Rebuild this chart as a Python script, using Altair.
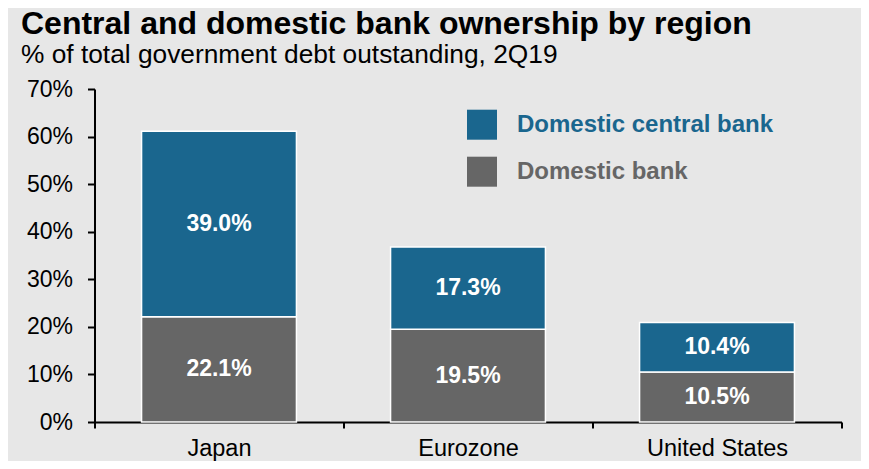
import altair as alt
import pandas as pd

regions = ["Japan", "Eurozone", "United States"]
central_bank = [39.0, 17.3, 10.4]
domestic_bank = [22.1, 19.5, 10.5]
series = ["Domestic central bank", "Domestic bank"]
y_ticks = [0, 10, 20, 30, 40, 50, 60, 70]

rows = []
for i, r in enumerate(regions):
    rows.append({"region": r, "series": "Domestic bank", "value": domestic_bank[i], "order": 0})
    rows.append({"region": r, "series": "Domestic central bank", "value": central_bank[i], "order": 1})
df = pd.DataFrame(rows)

BLUE = "#1a668e"
GREY = "#666666"
BG = "#e7e7e7"
FONT = "Liberation Sans"

x_enc = alt.X(
    "region:N", sort=regions, title=None,
    scale=alt.Scale(paddingInner=0, paddingOuter=0),
    axis=alt.Axis(tickBand="extent", labelAngle=0, labelFontSize=23.5, labelColor="black",
                  labelFont=FONT, domainColor="black", domainWidth=2, tickColor="black",
                  tickWidth=2, tickSize=6, labelPadding=8.5, grid=False),
)
y_scale = alt.Scale(domain=[0, 70], nice=False)
y_axis = alt.Axis(values=y_ticks, labelExpr="datum.value + '%'", labelFontSize=23, labelColor="black",
                  labelFont=FONT, domainColor="black", domainWidth=2, tickColor="black",
                  tickWidth=2, tickSize=7, labelPadding=15, grid=False)

bars = alt.Chart(df).mark_bar(
    width=alt.RelativeBandSize(0.622), stroke="white", strokeWidth=1.5
).encode(
    x=x_enc,
    y=alt.Y("value:Q", stack="zero", title=None, scale=y_scale, axis=y_axis),
    color=alt.Color(
        "series:N",
        scale=alt.Scale(domain=series, range=[BLUE, GREY]),
        legend=alt.Legend(
            title=None, orient="none", legendX=372.5, legendY=20.7, padding=0,
            symbolType="square", symbolSize=900, symbolStrokeWidth=0,
            labelFont=FONT, labelFontSize=24, labelFontWeight="bold",
            labelColor=alt.ExprRef(expr=f"datum.value == 'Domestic central bank' ? '{BLUE}' : '{GREY}'"),
            labelOffset=20, rowPadding=17, labelLimit=400,
        ),
    ),
    order=alt.Order("order:Q", sort="ascending"),
)

labels = alt.Chart(df).transform_window(
    cum="sum(value)", groupby=["region"], sort=[alt.SortField("order")]
).transform_calculate(
    mid="datum.cum - datum.value / 2",
    label="format(datum.value, '.1f') + '%'",
).mark_text(
    font=FONT, fontSize=23, fontWeight="bold", color="white", baseline="middle", align="center"
).encode(
    x=alt.X("region:N", sort=regions),
    y=alt.Y("mid:Q", scale=y_scale),
    text="label:N",
)

chart = alt.layer(bars, labels).properties(
    width=747,
    height=333,
    autosize=alt.AutoSizeParams(type="none"),
    padding={"left": 86.5, "top": 81, "right": 19.5, "bottom": 39},
    background=BG,
    title=alt.TitleParams(
        "Central and domestic bank ownership by region",
        subtitle="% of total government debt outstanding, 2Q19",
        anchor="start", frame="group", dx=-73.5, offset=9,
        font=FONT, fontSize=32, fontWeight="bold", color="black",
        subtitleFont=FONT, subtitleFontSize=26.3, subtitleColor="black", subtitlePadding=1,
    ),
).configure_view(stroke=None)

chart.save("out.html", embed_options={"renderer": "svg", "actions": False})
